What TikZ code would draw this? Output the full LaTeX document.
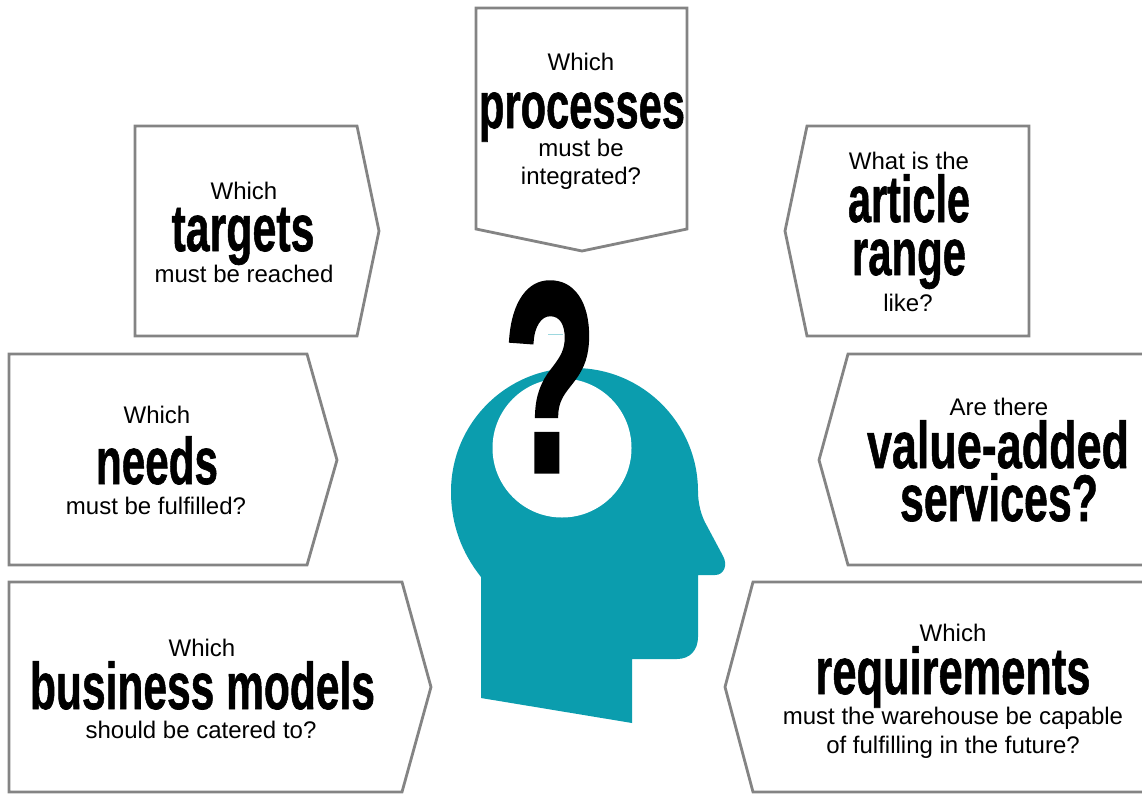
\documentclass[tikz,border=0pt]{standalone}
\usepackage{fontspec}
\setmainfont{Liberation Sans}
\newfontfamily\heavy[FakeBold=1.1]{Liberation Sans Bold}
\newfontfamily\heavyq[FakeBold=2.4]{Liberation Sans Bold}
\definecolor{teal1}{HTML}{0B9DAE}
\definecolor{edge}{HTML}{848484}
\newcommand{\bigword}[2]{\resizebox{#1pt}{\height}{\fontsize{66}{66}\heavy #2}}
\tikzset{
  panel/.style={draw=edge,line width=2.8pt,fill=white,line join=miter},
  small/.style={font=\fontsize{24}{24}\selectfont,anchor=base,inner sep=0pt,text=black},
  big/.style={anchor=base,inner sep=0pt,text=black},
}
\begin{document}
\begin{tikzpicture}[x=1pt,y=-1pt]
\useasboundingbox (0,0) rectangle (1142,793);
\draw[panel] (476,8) -- (687,8) -- (687,229) -- (582,251) -- (476,229) -- cycle;
\draw[panel] (135,126) -- (357,126) -- (379,231) -- (357,336) -- (135,336) -- cycle;
\draw[panel] (9,354) -- (307,354) -- (337,460) -- (307,565) -- (9,565) -- cycle;
\draw[panel] (9,582) -- (402,582) -- (431,687) -- (402,792) -- (9,792) -- cycle;
\draw[panel] (1029,126) -- (807,126) -- (785,231) -- (807,336) -- (1029,336) -- cycle;
\draw[panel] (1150,354) -- (848,354) -- (819,460) -- (848,565) -- (1150,565);
\draw[panel] (1150,582) -- (753,582) -- (725,687) -- (753,792) -- (1150,792);
% head
\fill[teal1] (481,698) -- (481,577) .. controls (462,553) and (451,525) .. (451,491.5)
 arc[start angle=180,end angle=360,radius=123.5]
 .. controls (698,503) and (701,516) .. (707,526) -- (723,556)
 .. controls (728,565) and (724,575) .. (715,575) -- (698,575) -- (698,637)
 .. controls (698,650) and (690,659) .. (677,659) -- (632,659) -- (632,723) -- cycle;
\fill[white] (562,448) circle[radius=69.5];
\draw[teal1!40,line width=0.5pt] (548,334) -- (563,334);
\node[big] (qmark) at (550,470.5) {\resizebox{92pt}{187pt}{\fontsize{66}{66}\heavyq ?}};
% texts
\node[small] (t1a) at (581,70) {Which};
\node[big] (t1b) at (582,128) {\bigword{206}{processes}};
\node[small] (t1c) at (581,156) {must be};
\node[small] (t1d) at (581,184) {integrated?};
\node[small] (t2a) at (244,199) {Which};
\node[big] (t2b) at (243,251) {\bigword{143}{targets}};
\node[small] (t2c) at (244,282) {must be reached};
\node[small] (t3a) at (909,169) {What is the};
\node[big] (t3b) at (909,222) {\bigword{122}{article}};
\node[big] (t3c) at (909,275) {\bigword{114}{range}};
\node[small] (t3d) at (908,311) {like?};
\node[small] (t4a) at (157,423) {Which};
\node[big] (t4b) at (157,484) {\bigword{122}{needs}};
\node[small] (t4c) at (156,514) {must be fulfilled?};
\node[small] (t5a) at (999,415) {Are there};
\node[big] (t5b) at (998,468) {\bigword{262}{value-added}};
\node[big] (t5c) at (999,521) {\bigword{198}{services?}};
\node[small] (t6a) at (202,656) {Which};
\node[big] (t6b) at (202.5,709) {\bigword{345}{business models}};
\node[small] (t6c) at (201,738) {should be catered to?};
\node[small] (t7a) at (953,641) {Which};
\node[big] (t7b) at (953,694) {\bigword{275}{requirements}};
\node[small] (t7c) at (953,724) {must the warehouse be capable};
\node[small] (t7d) at (953,753) {of fulfilling in the future?};
\end{tikzpicture}
\end{document}
